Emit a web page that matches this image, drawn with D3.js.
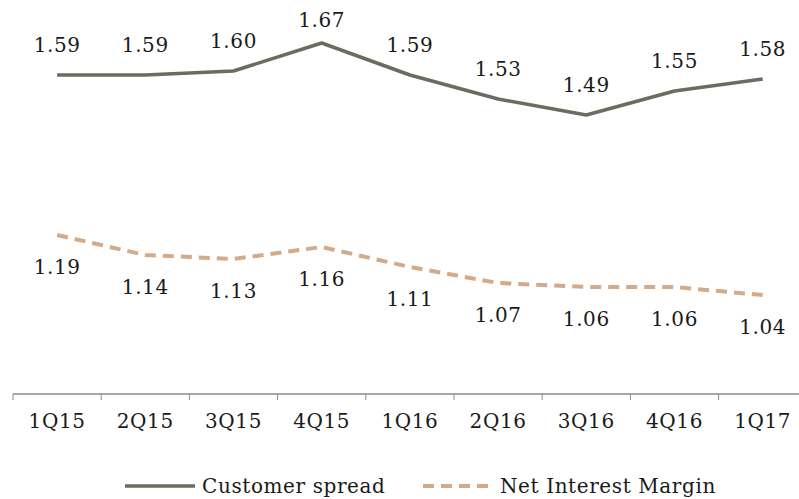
<!DOCTYPE html>
<html>
<head>
<meta charset="utf-8">
<script src="https://cdn.jsdelivr.net/npm/d3@7"></script>
<style>
  body { margin: 0; background: #fff; }
  text { font-family: 'DejaVu Serif', serif; fill: #1a1a1a; letter-spacing: 0.6px; }
</style>
</head>
<body>
<div id="chart"></div>
<script>
// quarters on the x axis
const quarters = ['1Q15', '2Q15', '3Q15', '4Q15', '1Q16', '2Q16', '3Q16', '4Q16', '1Q17'];
// customer spread (%)
const customerSpread = [1.59, 1.59, 1.60, 1.67, 1.59, 1.53, 1.49, 1.55, 1.58];
// net interest margin (%)
const netInterestMargin = [1.19, 1.14, 1.13, 1.16, 1.11, 1.07, 1.06, 1.06, 1.04];

let width = 799,
    height = 499;

let fontSize = '20px';

let svg = d3.select('#chart')
            .append('svg')
            .attr('width', width)
            .attr('height', height);

// band scale, points sit in the middle of each band
let xScale = d3.scaleBand()
            .domain(quarters)
            .range([13, 13 + 9 * 88.2]);

let yScale = d3.scaleLinear()
            .domain([0.79, 1.7])
            .range([395, 31]);

let cx = q => xScale(q) + xScale.bandwidth() / 2;

// x axis: line and ticks at band edges
let axisY = 394;
svg.append('line')
    .attr('x1', 13).attr('x2', width)
    .attr('y1', axisY).attr('y2', axisY)
    .attr('stroke', '#8c8c8c')
    .attr('stroke-width', 1.5);

svg.selectAll('line.tick')
    .data(quarters)
    .enter()
    .append('line')
    .attr('class', 'tick')
    .attr('x1', d => xScale(d)).attr('x2', d => xScale(d))
    .attr('y1', axisY).attr('y2', axisY + 6)
    .attr('stroke', '#8c8c8c')
    .attr('stroke-width', 1);

svg.selectAll('text.xlabel')
    .data(quarters)
    .enter()
    .append('text')
    .attr('class', 'xlabel')
    .attr('x', d => cx(d))
    .attr('y', 428)
    .attr('text-anchor', 'middle')
    .style('font-size', fontSize)
    .text(d => d);

// lines
let line = d3.line()
            .x((d, i) => cx(quarters[i]))
            .y(d => yScale(d));

svg.append('path')
    .datum(customerSpread)
    .attr('d', line)
    .attr('fill', 'none')
    .attr('stroke', '#6b6b5f')
    .attr('stroke-width', 3.5)
    .attr('stroke-linejoin', 'round');

svg.append('path')
    .datum(netInterestMargin)
    .attr('d', line)
    .attr('fill', 'none')
    .attr('stroke', '#d4aa88')
    .attr('stroke-width', 4)
    .attr('stroke-dasharray', '11 7');

// value labels: spread above, margin below
svg.selectAll('text.cs')
    .data(customerSpread)
    .enter()
    .append('text')
    .attr('class', 'cs')
    .attr('x', (d, i) => cx(quarters[i]))
    .attr('y', d => Math.max(yScale(d) - 23, 27))
    .attr('text-anchor', 'middle')
    .style('font-size', fontSize)
    .text(d => d.toFixed(2));

svg.selectAll('text.nim')
    .data(netInterestMargin)
    .enter()
    .append('text')
    .attr('class', 'nim')
    .attr('x', (d, i) => cx(quarters[i]))
    .attr('y', d => yScale(d) + 39)
    .attr('text-anchor', 'middle')
    .style('font-size', fontSize)
    .text(d => d.toFixed(2));

// legend
let legend = svg.append('g').attr('transform', 'translate(0, 486)');

legend.append('line')
    .attr('x1', 125).attr('x2', 195)
    .attr('stroke', '#6b6b5f')
    .attr('stroke-width', 3.5);
legend.append('text')
    .attr('x', 202).attr('y', 7)
    .style('font-size', fontSize)
    .text('Customer spread');

legend.append('line')
    .attr('x1', 423).attr('x2', 494)
    .attr('stroke', '#d4aa88')
    .attr('stroke-width', 4)
    .attr('stroke-dasharray', '11 7');
legend.append('text')
    .attr('x', 500).attr('y', 7)
    .style('font-size', fontSize)
    .text('Net Interest Margin');
</script>
</body>
</html>
